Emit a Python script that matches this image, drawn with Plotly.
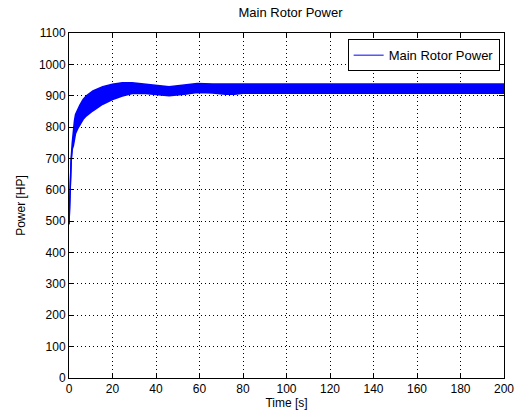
import plotly.graph_objects as go

# Time samples [s] and the read envelope of the oscillating power signal [HP]
time_s = [0, 0.3, 0.6, 1.0, 1.5, 2.0, 2.5, 3.0, 4.0, 5.0, 6.5, 8.0, 11.0, 15.5, 20.0, 24.5, 29.0,
          34.0, 40.0, 46.0, 53.0, 59.0, 66.0, 72.0, 76.0, 80.0, 90.0, 100.0, 120.0, 140.0,
          160.0, 180.0, 200.0]
power_upper = [490, 560, 640, 700, 750, 790, 820, 840, 858, 870, 888, 900, 915, 929, 937, 941, 941,
               938, 933, 929, 934, 939, 937, 936, 936, 937, 937, 937, 937, 937,
               937, 937, 937]
power_lower = [490, 550, 625, 690, 730, 740, 760, 780, 795, 808, 825, 836, 852, 873, 888, 899, 907,
               908, 904, 900, 905, 910, 909, 905, 905, 908, 908, 908, 908, 908,
               908, 908, 908]

series_name = "Main Rotor Power"
x_ticks = list(range(0, 201, 20))
y_ticks = list(range(0, 1101, 100))

BLUE = "#0000FF"
FONT = "Liberation Sans, Arial, sans-serif"

fig = go.Figure()
fig.add_trace(go.Scatter(x=time_s, y=power_lower, mode="lines",
                         line=dict(color=BLUE, width=1.5), showlegend=False, hoverinfo="skip"))
fig.add_trace(go.Scatter(x=time_s, y=power_upper, mode="lines", fill="tonexty",
                         fillcolor=BLUE, line=dict(color=BLUE, width=1.5),
                         showlegend=False, hoverinfo="skip"))
# legend entry (line style only)
fig.add_trace(go.Scatter(x=[None], y=[None], mode="lines", name=series_name,
                         line=dict(color=BLUE, width=1)))

axis_common = dict(
    showline=True, linecolor="black", linewidth=1, mirror="ticks",
    ticks="inside", ticklen=5, tickcolor="black",
    showgrid=True, gridcolor="black", gridwidth=1, griddash="1px,3px",
    zeroline=False, tickfont=dict(family=FONT, size=12, color="black"),
)

fig.update_xaxes(range=[0, 200], tickvals=x_ticks, ticktext=[str(v) for v in x_ticks],
                 title=dict(text="Time [s]", font=dict(family=FONT, size=12, color="black"),
                            standoff=2),
                 **axis_common)
fig.update_yaxes(range=[0, 1100], tickvals=y_ticks, ticktext=[str(v) for v in y_ticks],
                 title=dict(text="Power [HP]", font=dict(family=FONT, size=12, color="black"),
                            standoff=10),
                 **axis_common)

fig.update_layout(
    width=526, height=419,
    margin=dict(l=69, r=14, t=33, b=38),
    paper_bgcolor="white", plot_bgcolor="white",
    font=dict(family=FONT, size=12, color="black"),
    title=dict(text="Main Rotor Power", x=(69 + 512) / 2 / 526, xanchor="center",
               y=1 - 12 / 419, yanchor="middle",
               font=dict(family=FONT, size=13, color="black")),
    legend=dict(x=0.99, xanchor="right", y=0.982, yanchor="top",
                bordercolor="black", borderwidth=1, bgcolor="white",
                font=dict(family=FONT, size=13, color="black")),
    showlegend=True,
)

fig.write_html("out.html")
